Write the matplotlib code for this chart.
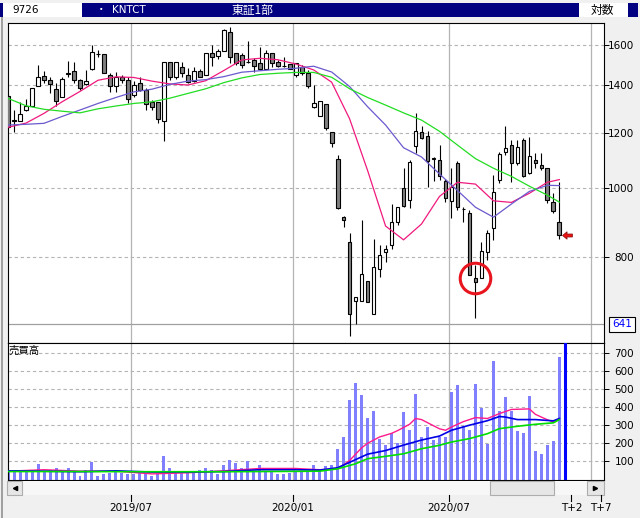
import matplotlib
matplotlib.use("Agg")
import matplotlib.pyplot as plt
import matplotlib.transforms as mtransforms
import numpy as np
from matplotlib.lines import Line2D
from matplotlib.patches import Rectangle
from matplotlib.path import Path
from matplotlib.ticker import NullLocator

W, H = 640, 518
JP = ["Noto Sans CJK JP", "DejaVu Sans"]

# ------------------------------------------------------------------ data
# weekly candles, oldest first (last one is week T)
opens = [1352, 1252, 1247, 1291, 1310, 1399, 1443, 1424, 1382, 1349,
         1453, 1466, 1423, 1405, 1476, 1550, 1550, 1451, 1397, 1440,
         1423, 1358, 1410, 1379, 1327, 1326, 1247, 1510, 1440, 1487,
         1451, 1419, 1468, 1451, 1557, 1541, 1569, 1666, 1557, 1545,
         1510, 1521, 1507, 1476, 1557, 1513, 1494, 1500, 1451, 1488,
         1456, 1306, 1268, 1316, 1201, 1100, 912, 838, 692, 692,
         739, 664, 767, 811, 831, 895, 1000, 962, 1148, 1203,
         1188, 1102, 1098, 1024, 959, 1085, 934, 922, 746, 745,
         811, 877, 1028, 1127, 1152, 1085, 1171, 1050, 1097, 1078,
         1068, 955, 897]
highs = [1360, 1292, 1327, 1338, 1390, 1496, 1468, 1440, 1410, 1437,
         1516, 1510, 1428, 1472, 1598, 1572, 1552, 1456, 1461, 1451,
         1440, 1420, 1440, 1390, 1335, 1326, 1510, 1512, 1512, 1513,
         1480, 1488, 1478, 1557, 1598, 1577, 1683, 1697, 1557, 1555,
         1620, 1530, 1589, 1572, 1557, 1521, 1535, 1500, 1508, 1496,
         1472, 1402, 1329, 1316, 1201, 1115, 913, 863, 700, 902,
         739, 846, 831, 831, 950, 940, 1068, 1097, 1278, 1226,
         1207, 1107, 1153, 1032, 1070, 1093, 942, 932, 778, 840,
         873, 1044, 1127, 1226, 1171, 1171, 1178, 1181, 1121, 1124,
         1068, 984, 1022]
lows = [1215, 1203, 1245, 1289, 1308, 1397, 1410, 1367, 1309, 1346,
        1440, 1410, 1379, 1403, 1474, 1535, 1457, 1371, 1371, 1410,
        1323, 1346, 1375, 1292, 1292, 1239, 1168, 1424, 1432, 1440,
        1410, 1414, 1437, 1451, 1493, 1525, 1569, 1505, 1496, 1480,
        1505, 1461, 1472, 1476, 1488, 1485, 1488, 1479, 1440, 1448,
        1390, 1299, 1268, 1210, 1146, 934, 882, 616, 641, 692,
        690, 664, 749, 787, 819, 887, 940, 937, 1124, 1174,
        1005, 1024, 1028, 957, 907, 932, 897, 752, 654, 745,
        791, 845, 1016, 1115, 1022, 1079, 1039, 1048, 1068, 1062,
        952, 922, 846]
closes = [1223, 1246, 1274, 1309, 1387, 1437, 1423, 1405, 1329, 1432,
          1453, 1423, 1387, 1420, 1561, 1550, 1459, 1397, 1440, 1424,
          1338, 1401, 1379, 1316, 1306, 1256, 1510, 1440, 1510, 1456,
          1414, 1468, 1440, 1557, 1535, 1567, 1679, 1535, 1505, 1498,
          1510, 1493, 1476, 1557, 1505, 1493, 1490, 1479, 1505, 1456,
          1399, 1320, 1329, 1219, 1159, 938, 901, 662, 700, 755,
          690, 772, 803, 819, 896, 940, 945, 1089, 1207, 1178,
          1094, 1102, 1040, 970, 1005, 941, 934, 752, 735, 814,
          863, 989, 1119, 1140, 1085, 1144, 1041, 1111, 1085, 1068,
          962, 929, 858]
volumes = [45, 50, 50, 41, 55, 83, 41, 50, 61, 41,
           61, 46, 17, 55, 96, 17, 28, 35, 41, 35,
           28, 31, 35, 28, 17, 28, 128, 61, 35, 35,
           35, 35, 50, 61, 55, 33, 78, 105, 89, 61,
           100, 46, 78, 46, 39, 33, 28, 35, 39, 39,
           39, 78, 50, 72, 78, 167, 233, 438, 535, 466,
           339, 377, 222, 189, 255, 200, 372, 272, 472, 233,
           289, 216, 233, 233, 483, 522, 294, 272, 527, 394,
           194, 655, 377, 455, 377, 266, 255, 461, 155, 139,
           189, 211, 677]

# price moving averages, read every third week
ma_idx = list(range(0, 91, 3)) + [92]
ma_short = [1221, 1238, 1278, 1327, 1373, 1424, 1440, 1437, 1420, 1407,
            1402, 1422, 1470, 1522, 1530, 1523, 1502, 1473, 1415, 1255,
            1060, 884, 845, 890, 974, 1020, 1014, 960, 955, 984,
            1020, 1029]
ma_mid = [1230, 1233, 1237, 1265, 1292, 1320, 1346, 1371, 1383, 1405,
          1420, 1427, 1441, 1462, 1469, 1476, 1481, 1491, 1463, 1395,
          1306, 1230, 1142, 1108, 1048, 993, 940, 910, 950, 990,
          1010, 1009]
ma_long = [1342, 1310, 1295, 1287, 1280, 1297, 1309, 1320, 1327, 1343,
           1364, 1385, 1413, 1435, 1451, 1457, 1461, 1461, 1438, 1385,
           1346, 1313, 1280, 1250, 1205, 1152, 1102, 1068, 1040, 1007,
           978, 956]

# volume moving averages
vma_short_idx = [0, 6, 12, 18, 24, 30, 36, 42, 48, 52, 55, 57, 59, 60, 62,
                 64, 65, 67, 68, 69, 72, 73, 74, 76, 78, 80, 82, 84, 87, 88,
                 90, 91, 92]
vma_short = [46, 54, 46, 46, 31, 37, 48, 61, 61, 54, 59, 105, 175, 200, 235,
             255, 270, 305, 337, 331, 280, 272, 290, 320, 342, 337, 364, 387,
             390, 360, 330, 318, 337]
vma_mid_idx = [0, 6, 12, 18, 24, 30, 36, 42, 48, 52, 55, 58, 60, 63, 66, 69,
               72, 74, 77, 80, 82, 83, 85, 88, 91, 92]
vma_mid = [48, 46, 43, 48, 41, 41, 44, 54, 54, 52, 65, 110, 140, 160, 190,
           218, 240, 272, 300, 325, 348, 345, 331, 331, 324, 337]
vma_long_idx = [0, 12, 24, 36, 48, 52, 55, 58, 60, 63, 66, 69, 72, 74, 77,
                80, 82, 85, 88, 91, 92]
vma_long = [44, 44, 43, 43, 45, 46, 59, 87, 115, 128, 142, 170, 189, 207,
            226, 253, 281, 294, 305, 313, 331]

price_ticks = [800, 1000, 1200, 1400, 1600]
vol_ticks = [100, 200, 300, 400, 500, 600, 700]
date_pos = [20.45, 47.5, 73.6, 94, 99]
date_labels = ["2019/07", "2020/01", "2020/07", "T+2", "T+7"]
grid_pos = [20.45, 47.5, 73.6, 97.3]
low_mark = 641
circle_idx, circle_price = 78, 746
cursor_idx = 93

# ------------------------------------------------------------------ helpers
fig = plt.figure(figsize=(W / 100, H / 100), dpi=100, facecolor="#F0F0F0")


def fbox(x0, y0, x1, y1):
    return [x0 / W, 1 - y1 / H, (x1 - x0) / W, (y1 - y0) / H]


def frect(x0, y0, x1, y1, **kw):
    r = Rectangle((x0 / W, 1 - y1 / H), (x1 - x0) / W, (y1 - y0) / H,
                  transform=fig.transFigure, **kw)
    fig.add_artist(r)


def ftext(x, y, s, **kw):
    fig.text(x / W, 1 - y / H, s, **kw)


XLIM = (-0.1, 99.37)
GRID = "#B4B4B4"

# ------------------------------------------------------------------ header
frect(0, 2.7, 638, 16.7, facecolor="#000080", edgecolor="none")
frect(3, 2.7, 82, 16.7, facecolor="white", edgecolor="none")
frect(579, 2.7, 628, 16.7, facecolor="white", edgecolor="none")
ftext(12, 10, "9726", fontsize=7.5, va="center", color="black")
ftext(96, 10, "・", family=JP, fontsize=7.5, va="center", color="white")
ftext(112, 10, "KNTCT", fontsize=7.5, va="center", color="white")
ftext(232, 10, "東証1部", family=JP, fontsize=8.5, va="center", color="white")
ftext(591, 10, "対数", family=JP, fontsize=8.5, va="center", color="black")
frect(1, 17, 3, 518, facecolor="#A0A0A0", edgecolor="none")

# ------------------------------------------------------------------ price panel
ax = fig.add_axes(fbox(7.5, 22.7, 603.5, 343.2))
ax.set_facecolor("white")
ax.set_yscale("log")
ax.set_xlim(*XLIM)
ax.set_ylim(602.6, 1719)
ax.set_xticks([])
ax.yaxis.set_minor_locator(NullLocator())
ax.yaxis.tick_right()
ax.tick_params(axis="y", direction="out", length=3.5, width=0.7, pad=18.5,
               labelsize=7.5)
ax.set_yticks(price_ticks, [str(v) for v in price_ticks], ha="right")
for s in ax.spines.values():
    s.set_linewidth(0.8)

for v in price_ticks:
    ax.axhline(v, color=GRID, lw=0.8, ls=(0, (3, 2.5)), zorder=1)
for g in grid_pos:
    ax.axvline(g, color=GRID, lw=0.9, zorder=1)
ax.axhline(low_mark, color="#A0A0A0", lw=0.9, zorder=1)

o, h, l, c = (np.array(a, dtype=float) for a in (opens, highs, lows, closes))
idx = np.arange(len(o))
ax.vlines(idx, l, h, color="black", lw=0.8, zorder=2)
bottom = np.minimum(o, c)
height = np.maximum(np.maximum(o, c) - bottom, bottom * 0.002)
body_col = ["white" if cc >= oo else "#808080" for oo, cc in zip(o, c)]
ax.bar(idx, height, bottom=bottom, width=0.62, color=body_col,
       edgecolor="black", linewidth=0.8, zorder=3)

ax.plot(ma_idx, ma_short, color="#F0197D", lw=0.9, zorder=4)
ax.plot(ma_idx, ma_mid, color="#6A5ACD", lw=0.9, zorder=4)
ax.plot(ma_idx, ma_long, color="#22DD22", lw=0.9, zorder=4)

# red circle and latest-close arrow
ax.plot(circle_idx, circle_price, marker="o", ms=22, mfc="none",
        mec="#E8141E", mew=2.2, zorder=5)
arrow = Path([(-1, 0), (-0.1, 0.75), (-0.1, 0.3), (1, 0.3), (1, -0.3),
              (-0.1, -0.3), (-0.1, -0.75), (-1, 0)], closed=True)
ax.plot(len(o) + 0.2, closes[-1], marker=arrow, ms=7, mfc="#F01010",
        mec="#901010", mew=0.6, zorder=5, clip_on=False)

trans = mtransforms.blended_transform_factory(fig.transFigure, ax.transData)
ax.text(622 / W, low_mark, str(low_mark), transform=trans, ha="center",
        va="center", color="#0000FF", fontsize=7.5, clip_on=False,
        bbox=dict(boxstyle="square,pad=0.25", fc="white", ec="black", lw=0.8))

# ------------------------------------------------------------------ volume panel
axv = fig.add_axes(fbox(7.5, 343.2, 603.5, 479.5))
axv.set_facecolor("white")
axv.set_xlim(*XLIM)
axv.set_ylim(0, 753)
axv.set_xticks([])
axv.yaxis.tick_right()
axv.tick_params(axis="y", direction="out", length=3.5, width=0.7, pad=18.5,
                labelsize=7.5)
axv.set_yticks(vol_ticks, [str(v) for v in vol_ticks], ha="right")
for s in axv.spines.values():
    s.set_linewidth(0.8)

for v in vol_ticks:
    axv.axhline(v, color=GRID, lw=0.8, ls=(0, (3, 2.5)), zorder=1)
for g in grid_pos:
    axv.axvline(g, color=GRID, lw=0.9, zorder=1)

axv.bar(idx, volumes, width=0.5, color="#8080FF", zorder=2)
axv.plot(vma_short_idx, vma_short, color="#FF1A8C", lw=1.0, zorder=3)
axv.plot(vma_mid_idx, vma_mid, color="#0000E6", lw=1.2, zorder=3)
axv.plot(vma_long_idx, vma_long, color="#00DD00", lw=1.2, zorder=3)
axv.axvline(cursor_idx, color="#0000FF", lw=2.2, zorder=4)
axv.text(0.0025, 0.985, "売買高", transform=axv.transAxes, ha="left",
         va="top", fontsize=7.5, family=JP)

# ------------------------------------------------------------------ scroll bar
frect(22, 481, 587, 494.5, facecolor="#F7F7F7", edgecolor="none")
for x0, x1 in [(7, 22), (587, 603.5), (489.5, 553.5)]:
    frect(x0, 481, x1, 494.5, facecolor="#E6E6E6", edgecolor="#ADADAD",
          lw=0.8)
for xm, mk in [(14.5, "<"), (595, ">")]:
    fig.add_artist(Line2D([xm / W], [1 - 487.7 / H], marker=mk, ms=3,
                          color="black", transform=fig.transFigure))

# ------------------------------------------------------------------ date axis
blend = mtransforms.blended_transform_factory(axv.transData, fig.transFigure)
for p, lab in zip(date_pos, date_labels):
    fig.add_artist(Line2D([p, p], [1 - 495 / H, 1 - 500.5 / H],
                          transform=blend, color="black", lw=0.8))
    fig.text(p, 1 - 508 / H, lab, transform=blend, ha="center", va="center",
             fontsize=7.5)

fig.savefig("out.png", dpi=100, facecolor=fig.get_facecolor())
